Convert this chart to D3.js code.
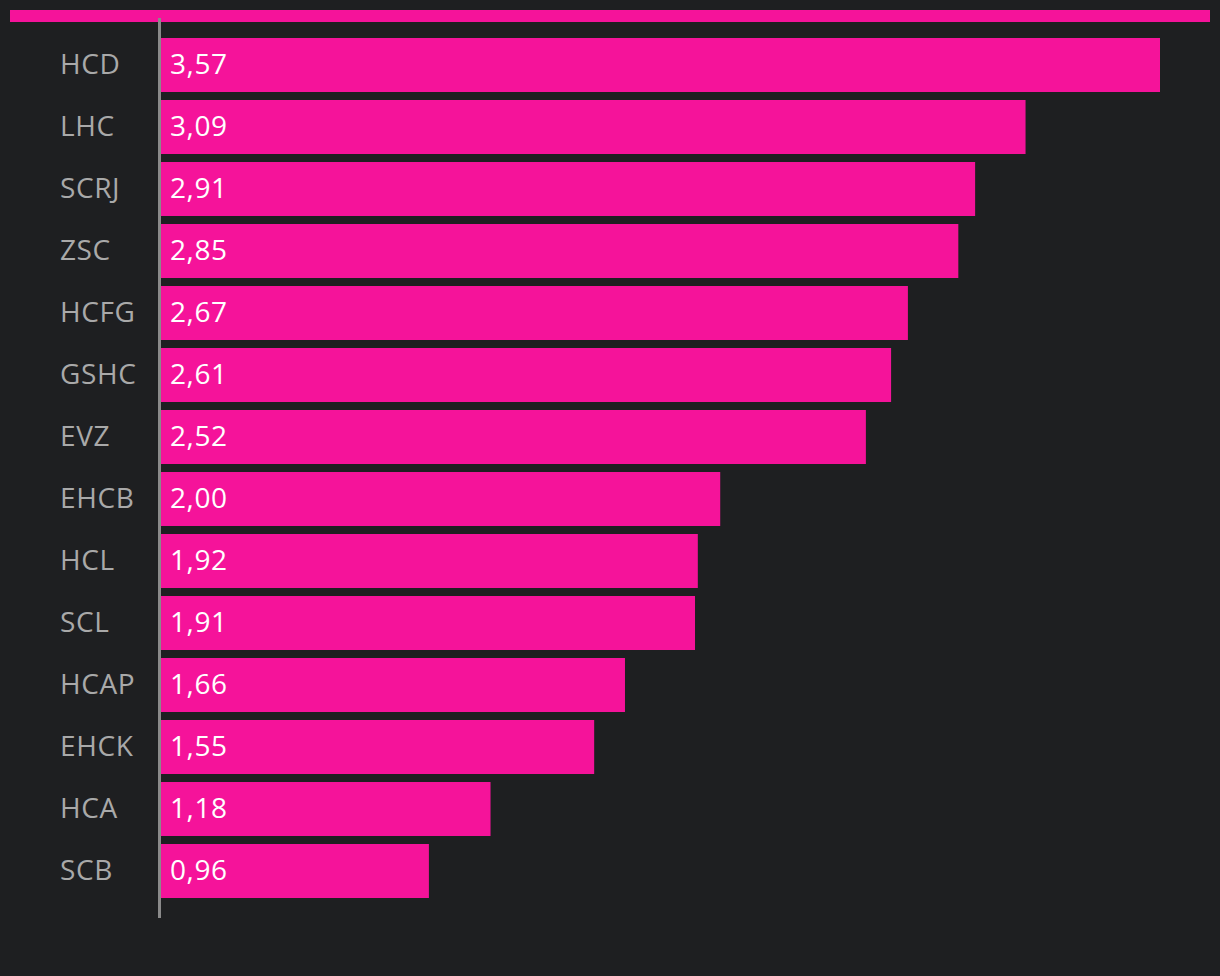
<!DOCTYPE html>
<html><head><meta charset="utf-8">
<script src="https://cdn.jsdelivr.net/npm/d3@7"></script>
<style>html,body{margin:0;padding:0;background:#1e1f21;}</style>
</head><body>
<script>
const categories = ["HCD","LHC","SCRJ","ZSC","HCFG","GSHC","EVZ","EHCB","HCL","SCL","HCAP","EHCK","HCA","SCB"];
const values = [3.57,3.09,2.91,2.85,2.67,2.61,2.52,2.00,1.92,1.91,1.66,1.55,1.18,0.96];
const data = categories.map((c,i)=>({c, v: values[i]}));

const W = 1220, H = 976;
const svg = d3.select("body").append("svg").attr("width", W).attr("height", H)
  .style("background", "#1e1f21").style("display","block");

const pink = "#f5139a";
svg.append("rect").attr("x",10).attr("y",10).attr("width",1200).attr("height",12).attr("fill",pink);

const x = d3.scaleLinear().domain([0, 3.57]).range([160, 1160]);
const p = 8/62;
const y = d3.scaleBand().domain(categories).range([34, 902]).paddingInner(p).paddingOuter(p/2);

svg.selectAll("rect.bar").data(data).join("rect").attr("class","bar")
  .attr("x", x(0)).attr("y", d=>y(d.c))
  .attr("width", d=>x(d.v)-x(0)).attr("height", y.bandwidth()).attr("fill", pink);

const font = "'Open Sans', 'Noto Sans', sans-serif";
svg.selectAll("text.lab").data(data).join("text").attr("class","lab")
  .attr("x", 60).attr("y", d=>y(d.c)+36)
  .attr("fill","#a9a9a9").attr("font-family",font).attr("font-size",28)
  .attr("letter-spacing", 0.6)
  .text(d=>d.c);

const fmt = v => d3.format(".2f")(v).replace(".", ",");
svg.selectAll("text.val").data(data).join("text").attr("class","val")
  .attr("x", x(0)+10).attr("y", d=>y(d.c)+36)
  .attr("fill","#ffffff").attr("font-family",font).attr("font-size",28)
  .attr("letter-spacing", 0.6)
  .text(d=>fmt(d.v));

svg.append("line").attr("x1",159.5).attr("x2",159.5).attr("y1",18).attr("y2",918)
  .attr("stroke","#8a8a8a").attr("stroke-width",3);
</script>
</body></html>
